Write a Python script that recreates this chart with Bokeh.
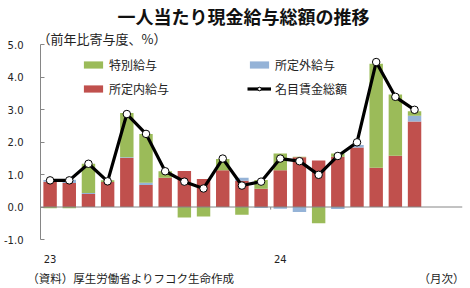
from bokeh.plotting import figure
from bokeh.models import (ColumnDataSource, Legend, LegendItem, Span, Title,
                          FixedTicker, Range1d, LinearAxis)
from bokeh.embed import file_html
from bokeh.resources import INLINE

# ---- data (contribution to YoY change, %) Jan 2023 - Aug 2024 ----
months = list(range(1, 21))
scheduled = [0.78, 0.74, 0.40, 0.77, 1.51, 0.68, 0.90, 1.11, 0.86, 1.13,
             0.81, 0.56, 1.13, 1.53, 1.43, 1.55, 1.83, 1.21, 1.58, 2.63]   # 所定内給与
overtime = [0.05, 0.10, 0.03, 0.00, 0.02, 0.07, 0.00, 0.00, 0.00, 0.00,
            0.09, -0.03, -0.05, -0.15, 0.00, -0.06, 0.08, 0.00, 0.00, 0.18]  # 所定外給与
special = [-0.04, -0.04, 0.90, 0.05, 1.36, 1.50, 0.20, -0.32, -0.29, 0.35,
           -0.24, 0.27, 0.52, 0.02, -0.50, 0.10, 0.00, 3.20, 1.88, 0.14]     # 特別給与
total = [0.82, 0.82, 1.33, 0.79, 2.86, 2.25, 1.10, 0.78, 0.57, 1.49,
         0.66, 0.78, 1.49, 1.41, 0.99, 1.57, 1.99, 4.46, 3.39, 2.99]          # 名目賃金総額
tick_months = [1, 13]
tick_labels = ["23", "24"]
y_ticks = [-1, 0, 1, 2, 3, 4, 5]
title_text = "一人当たり現金給与総額の推移"
unit_text = "（前年比寄与度、%）"
source_text = "（資料）厚生労働省よりフコク生命作成"
freq_text = "（月次）"

# ---- stacking (positive up, negative down) ----
r_bot, r_top, b_bot, b_top, g_bot, g_top = [], [], [], [], [], []
for r, b, g in zip(scheduled, overtime, special):
    pos, neg = 0.0, 0.0
    r_bot.append(pos); pos += r; r_top.append(pos)
    if b >= 0:
        b_bot.append(pos); pos += b; b_top.append(pos)
    else:
        b_bot.append(neg); neg += b; b_top.append(neg)
    if g >= 0:
        g_bot.append(pos); pos += g; g_top.append(pos)
    else:
        g_bot.append(neg); neg += g; g_top.append(neg)

src = ColumnDataSource(dict(x=months, rb=r_bot, rt=r_top, bb=b_bot, bt=b_top,
                            gb=g_bot, gt=g_top, total=total))

RED = "#C0504D"
GREEN = "#9BBB59"
BLUE = "#95B3D7"
JP = "Noto Sans CJK JP"
TXT = "#222222"
AX = "#868686"

p = figure(width=470, height=288, output_backend="svg", toolbar_location=None,
           x_range=Range1d(0.5, 22.5), y_range=Range1d(-1, 5),
           min_border_left=40, min_border_right=8, min_border_top=42,
           min_border_bottom=47, title=None)
p.outline_line_color = None
p.xgrid.visible = False
p.ygrid.visible = False
p.background_fill_color = "white"
p.border_fill_color = "white"

w = 0.7
rr = p.vbar(x="x", bottom="rb", top="rt", width=w, source=src, fill_color=RED, line_color=None)
br = p.vbar(x="x", bottom="bb", top="bt", width=w, source=src, fill_color=BLUE, line_color=None)
gr = p.vbar(x="x", bottom="gb", top="gt", width=w, source=src, fill_color=GREEN, line_color=None)

p.add_layout(Span(location=0, dimension="width", line_color=AX, line_width=1))

ln = p.line(x="x", y="total", source=src, line_color="black", line_width=3.2)
sc = p.scatter(x="x", y="total", source=src, marker="circle", size=7.5,
               fill_color="white", line_color="black", line_width=1)

# tick on zero line at the year boundary
yb = tick_months[1] - 0.5
p.segment(x0=[yb], x1=[yb], y0=[0], y1=[-0.08], line_color=AX, line_width=1)

# axes
p.yaxis.ticker = FixedTicker(ticks=y_ticks)
p.yaxis.major_label_overrides = {t: f"{t:.1f}" for t in y_ticks}
p.yaxis.axis_line_color = AX
p.yaxis.major_tick_line_color = AX
p.yaxis.major_tick_in = 4
p.yaxis.major_tick_out = 0
p.yaxis.minor_tick_line_color = None
p.yaxis.major_label_standoff = 17
p.yaxis.major_label_text_font = "DejaVu Sans"
p.yaxis.major_label_text_font_size = "10px"
p.yaxis.major_label_text_color = TXT

p.xaxis.ticker = FixedTicker(ticks=tick_months)
p.xaxis.major_label_overrides = {m: l for m, l in zip(tick_months, tick_labels)}
p.xaxis.axis_line_color = None
p.xaxis.major_tick_line_color = None
p.xaxis.major_tick_out = 0
p.xaxis.major_tick_in = 0
p.xaxis.minor_tick_line_color = None
p.xaxis.major_label_standoff = 15
p.xaxis.major_label_text_font = "DejaVu Sans"
p.xaxis.major_label_text_font_size = "10px"
p.xaxis.major_label_text_color = TXT

# footer line as a second, bare axis below (text positioned on the x scale)
foot_pos = [5.2, 21.4]
foot_axis = LinearAxis(ticker=FixedTicker(ticks=foot_pos),
                       major_label_overrides={foot_pos[0]: source_text, foot_pos[1]: freq_text},
                       axis_line_color=None, major_tick_line_color=None,
                       major_tick_out=0, major_tick_in=0,
                       minor_tick_line_color=None, major_label_standoff=4,
                       major_label_text_font=JP, major_label_text_font_size="11.5px",
                       major_label_text_color=TXT)
p.add_layout(foot_axis, "below")

# titles above
p.add_layout(Title(text=unit_text, align="left", offset=-3, standoff=-6,
                   text_font=JP, text_font_size="13px", text_font_style="normal",
                   text_color=TXT), "above")
p.add_layout(Title(text=title_text, align="left", offset=77, standoff=1,
                   text_font=JP, text_font_size="18px", text_font_style="bold",
                   text_color="#111111"), "above")

# legends
def mk_legend(items, x, y):
    lg = Legend(items=items, location=(x, y), orientation="vertical",
                glyph_width=24, glyph_height=9, label_height=12, spacing=7,
                label_standoff=4, padding=0, margin=0,
                border_line_color=None, background_fill_alpha=0,
                label_text_font=JP, label_text_font_size="12px",
                label_text_color=TXT)
    p.add_layout(lg, "center")

mk_legend([LegendItem(label="特別給与", renderers=[gr]),
           LegendItem(label="所定内給与", renderers=[rr])], 41, 142)
mk_legend([LegendItem(label="所定外給与", renderers=[br]),
           LegendItem(label="名目賃金総額", renderers=[ln, sc])], 207, 142)

open("out.html", "w").write(file_html(p, INLINE))
